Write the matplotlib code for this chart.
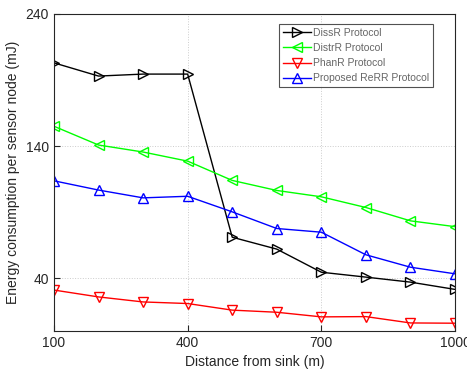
import matplotlib
matplotlib.use("Agg")
import matplotlib.pyplot as plt

plt.rcParams['font.family'] = ['Liberation Sans', 'DejaVu Sans']

distance = [100, 200, 300, 400, 500, 600, 700, 800, 900, 1000]
dissr = [203, 193, 194.5, 194.5, 71, 62, 44.5, 40.8, 37, 31.5]
distr = [155, 140.8, 135.5, 128.6, 114, 106.4, 101.6, 93.5, 83.4, 79]
phanr = [31, 25.8, 22, 20.8, 15.8, 14.2, 10.7, 10.9, 6.1, 5.9]
rerr = [113.7, 106.7, 100.8, 102, 90.2, 77.6, 74.8, 57.7, 48.3, 43.3]

labels = ['DissR Protocol', 'DistrR Protocol', 'PhanR Protocol', 'Proposed ReRR Protocol']
xticks = [100, 400, 700, 1000]
yticks = [40, 140, 240]

fig = plt.figure(figsize=(4.67, 3.72), dpi=100)
ax = fig.add_axes([0.1156, 0.1102, 0.8587, 0.8522])

series = [(dissr, 'black', '>'), (distr, '#00ff00', '<'), (phanr, 'red', 'v'), (rerr, 'blue', '^')]
for (vals, c, m), lab in zip(series, labels):
    ax.plot(distance, vals, color=c, marker=m, markersize=7, markerfacecolor='none',
            markeredgecolor=c, markeredgewidth=1.0, linewidth=1.0, label=lab)

ax.set_xlim(100, 1000)
ax.set_ylim(0, 240)
ax.set_xticks(xticks)
ax.set_yticks(yticks)
ax.grid(True, linestyle=':', color='#cccccc', linewidth=0.7)
ax.tick_params(direction='in', labelsize=10, colors='#262626', length=4)
for s in ax.spines.values():
    s.set_color('#262626')
    s.set_linewidth(0.8)
ax.set_xlabel('Distance from sink (m)', fontsize=10, color='#262626')
ax.set_ylabel('Energy consumption per sensor node (mJ)', fontsize=10, color='#262626')

leg = ax.legend(loc='upper right', bbox_to_anchor=(0.945, 0.968), fontsize=7.5, frameon=True,
                fancybox=False, edgecolor='#262626', handlelength=2.7, borderpad=0.35,
                labelspacing=0.5, handletextpad=0.2, borderaxespad=0)
for t in leg.get_texts():
    t.set_color('#666666')
leg.get_frame().set_linewidth(0.8)

fig.savefig('out.png', dpi=100)
